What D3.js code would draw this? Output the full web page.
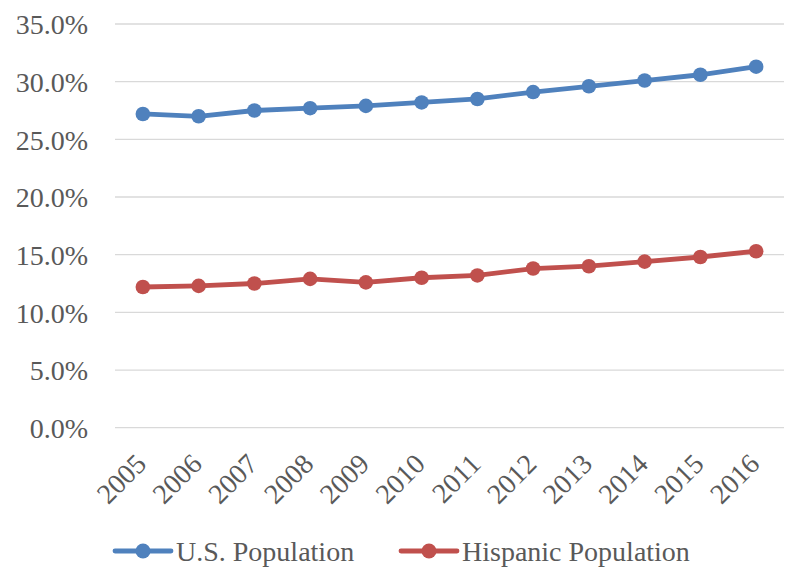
<!DOCTYPE html>
<html>
<head>
<meta charset="utf-8">
<script src="https://cdn.jsdelivr.net/npm/d3@7"></script>
<style>
  html, body { margin: 0; padding: 0; background: #fff; }
  svg text { font-family: "Liberation Serif", "DejaVu Serif", serif; fill: #595959; }
</style>
</head>
<body>
<svg id="chart" width="786" height="568"></svg>
<script>
// Share of population, by year
const years = ["2005","2006","2007","2008","2009","2010","2011","2012","2013","2014","2015","2016"];
const usPopulation = [27.2, 27.0, 27.5, 27.7, 27.9, 28.2, 28.5, 29.1, 29.6, 30.1, 30.6, 31.3];
const hispanicPopulation = [12.2, 12.3, 12.5, 12.9, 12.6, 13.0, 13.2, 13.8, 14.0, 14.4, 14.8, 15.3];
const yTicks = [0, 5, 10, 15, 20, 25, 30, 35];
const seriesNames = ["U.S. Population", "Hispanic Population"];
const seriesColors = ["#4F81BD", "#C0504D"];

const series = [
  { name: seriesNames[0], color: seriesColors[0], values: usPopulation },
  { name: seriesNames[1], color: seriesColors[1], values: hispanicPopulation }
];

const svg = d3.select("#chart");
const plot = { left: 115, right: 784, top: 24, bottom: 427.7 };

const x = d3.scaleBand().domain(years).range([plot.left, plot.right]);
const y = d3.scaleLinear().domain([0, 35]).range([plot.bottom, plot.top]);
const cx = yr => x(yr) + x.bandwidth() / 2;

// Horizontal gridlines
svg.append("g")
  .selectAll("line")
  .data(yTicks)
  .join("line")
  .attr("x1", plot.left).attr("x2", plot.right)
  .attr("y1", d => y(d)).attr("y2", d => y(d))
  .attr("stroke", "#d9d9d9").attr("stroke-width", 1.3);

// Y axis labels
const yAxis = d3.axisLeft(y).tickValues(yTicks).tickSize(0).tickPadding(0)
  .tickFormat(d => d.toFixed(1) + "%");
const yg = svg.append("g").attr("transform", `translate(${plot.left - 27},0)`).call(yAxis);
yg.select(".domain").remove();
yg.selectAll("text").attr("font-size", 28).attr("dy", "0.35em")
  .style("font-family", "'Liberation Serif', serif").attr("fill", "#595959");

// X axis labels, rotated
const xAxis = d3.axisBottom(x).tickSize(0).tickPadding(0);
const xg = svg.append("g").attr("transform", `translate(0,${plot.bottom})`).call(xAxis);
xg.select(".domain").remove();
xg.selectAll("text")
  .attr("font-size", 28)
  .attr("text-anchor", "end")
  .attr("dy", null)
  .attr("y", 0)
  .attr("transform", "translate(5,38) rotate(-45)")
  .style("font-family", "'Liberation Serif', serif").attr("fill", "#595959");

// Lines and markers
const line = d3.line()
  .x((d, i) => cx(years[i]))
  .y(d => y(d));

series.forEach(s => {
  svg.append("path")
    .datum(s.values)
    .attr("d", line)
    .attr("fill", "none")
    .attr("stroke", s.color)
    .attr("stroke-width", 4.8)
    .attr("stroke-linejoin", "round");
  svg.append("g")
    .selectAll("circle")
    .data(s.values)
    .join("circle")
    .attr("cx", (d, i) => cx(years[i]))
    .attr("cy", d => y(d))
    .attr("r", 7.3)
    .attr("fill", s.color);
});

// Legend
const legendX = [115, 401];
const legend = svg.append("g");
series.forEach((s, i) => {
  const g = legend.append("g").attr("transform", `translate(${legendX[i]},551)`);
  g.append("line").attr("x1", 0).attr("x2", 56).attr("y1", 0).attr("y2", 0)
    .attr("stroke", s.color).attr("stroke-width", 4.8).attr("stroke-linecap", "round");
  g.append("circle").attr("cx", 28).attr("cy", 0).attr("r", 7.5).attr("fill", s.color);
  g.append("text").attr("x", 61).attr("y", 10)
    .attr("font-size", 28).text(s.name);
});
</script>
</body>
</html>
